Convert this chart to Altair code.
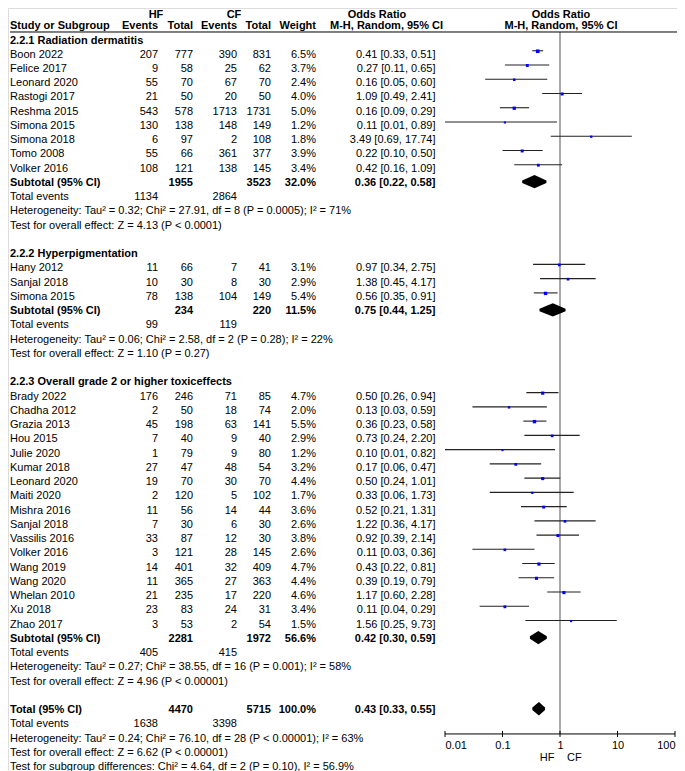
import altair as alt
import pandas as pd

FONT = "Liberation Sans"
FS = 11

# ---------------- data ----------------
g1_title = "2.2.1 Radiation dermatitis"
g1_study = ["Boon 2022", "Felice 2017", "Leonard 2020", "Rastogi 2017", "Reshma 2015",
            "Simona 2015", "Simona 2018", "Tomo 2008", "Volker 2016"]
g1_hf_ev = [207, 9, 55, 21, 543, 130, 6, 55, 108]
g1_hf_tot = [777, 58, 70, 50, 578, 138, 97, 66, 121]
g1_cf_ev = [390, 25, 67, 20, 1713, 148, 2, 361, 138]
g1_cf_tot = [831, 62, 70, 50, 1731, 149, 108, 377, 145]
g1_weight = [6.5, 3.7, 2.4, 4.0, 5.0, 1.2, 1.8, 3.9, 3.4]
g1_or = [0.41, 0.27, 0.16, 1.09, 0.16, 0.11, 3.49, 0.22, 0.42]
g1_lo = [0.33, 0.11, 0.05, 0.49, 0.09, 0.01, 0.69, 0.10, 0.16]
g1_hi = [0.51, 0.65, 0.60, 2.41, 0.29, 0.89, 17.74, 0.50, 1.09]
g1_sub = [1955, 3523, 32.0, 0.36, 0.22, 0.58]
g1_events = [1134, 2864]
g1_het = "Heterogeneity: Tau² = 0.32; Chi² = 27.91, df = 8 (P = 0.0005); I² = 71%"
g1_test = "Test for overall effect: Z = 4.13 (P < 0.0001)"

g2_title = "2.2.2 Hyperpigmentation"
g2_study = ["Hany 2012", "Sanjal 2018", "Simona 2015"]
g2_hf_ev = [11, 10, 78]
g2_hf_tot = [66, 30, 138]
g2_cf_ev = [7, 8, 104]
g2_cf_tot = [41, 30, 149]
g2_weight = [3.1, 2.9, 5.4]
g2_or = [0.97, 1.38, 0.56]
g2_lo = [0.34, 0.45, 0.35]
g2_hi = [2.75, 4.17, 0.91]
g2_sub = [234, 220, 11.5, 0.75, 0.44, 1.25]
g2_events = [99, 119]
g2_het = "Heterogeneity: Tau² = 0.06; Chi² = 2.58, df = 2 (P = 0.28); I² = 22%"
g2_test = "Test for overall effect: Z = 1.10 (P = 0.27)"

g3_title = "2.2.3 Overall grade 2 or higher toxiceffects"
g3_study = ["Brady 2022", "Chadha 2012", "Grazia 2013", "Hou 2015", "Julie 2020", "Kumar 2018",
            "Leonard 2020", "Maiti 2020", "Mishra 2016", "Sanjal 2018", "Vassilis 2016",
            "Volker 2016", "Wang 2019", "Wang 2020", "Whelan 2010", "Xu 2018", "Zhao 2017"]
g3_hf_ev = [176, 2, 45, 7, 1, 27, 19, 2, 11, 7, 33, 3, 14, 11, 21, 23, 3]
g3_hf_tot = [246, 50, 198, 40, 79, 47, 70, 120, 56, 30, 87, 121, 401, 365, 235, 83, 53]
g3_cf_ev = [71, 18, 63, 9, 9, 48, 30, 5, 14, 6, 12, 28, 32, 27, 17, 24, 2]
g3_cf_tot = [85, 74, 141, 40, 80, 54, 70, 102, 44, 30, 30, 145, 409, 363, 220, 31, 54]
g3_weight = [4.7, 2.0, 5.5, 2.9, 1.2, 3.2, 4.4, 1.7, 3.6, 2.6, 3.8, 2.6, 4.7, 4.4, 4.6, 3.4, 1.5]
g3_or = [0.50, 0.13, 0.36, 0.73, 0.10, 0.17, 0.50, 0.33, 0.52, 1.22, 0.92, 0.11, 0.43, 0.39, 1.17, 0.11, 1.56]
g3_lo = [0.26, 0.03, 0.23, 0.24, 0.01, 0.06, 0.24, 0.06, 0.21, 0.36, 0.39, 0.03, 0.22, 0.19, 0.60, 0.04, 0.25]
g3_hi = [0.94, 0.59, 0.58, 2.20, 0.82, 0.47, 1.01, 1.73, 1.31, 4.17, 2.14, 0.36, 0.81, 0.79, 2.28, 0.29, 9.73]
g3_sub = [2281, 1972, 56.6, 0.42, 0.30, 0.59]
g3_events = [405, 415]
g3_het = "Heterogeneity: Tau² = 0.27; Chi² = 38.55, df = 16 (P = 0.001); I² = 58%"
g3_test = "Test for overall effect: Z = 4.96 (P < 0.00001)"

tot_values = [4470, 5715, 100.0, 0.43, 0.33, 0.55]
tot_events = [1638, 3398]
tot_het = "Heterogeneity: Tau² = 0.24; Chi² = 76.10, df = 28 (P < 0.00001); I² = 63%"
tot_test = "Test for overall effect: Z = 6.62 (P < 0.00001)"
tot_sub = "Test for subgroup differences: Chi² = 4.64, df = 2 (P = 0.10), I² = 56.9%"

axis_ticks = [0.01, 0.1, 1, 10, 100]

# ---------------- layout constants (style) ----------------
W, H = 669, 763
ROW0_PX, ROW_PX = 32.5, 14.245
AXIS_ROW = 48.68
HDR1_ROW, HDR2_ROW, UNDERLINE_ROW = -1.825, -0.983, -0.597
FAV_ROW = 50.37
DIAMOND_HALF = 0.38
TICK_HALF = 0.21

# ---------------- build tables ----------------
text_recs = []
study_recs = []
summary_recs = []


def T(row, col, text, bold=False):
    text_recs.append({"row": row, "col": col, "text": str(text), "bold": bold})


def ci_text(o, l, h):
    return f"{o:.2f} [{l:.2f}, {h:.2f}]"


def add_group(r, title, study, hfe, hft, cfe, cft, wt, ors, los, his, sub, events, het, test):
    T(r, "study", title, True)
    r += 1
    for i in range(len(study)):
        T(r, "study", study[i])
        T(r, "hf_ev", hfe[i])
        T(r, "hf_tot", hft[i])
        T(r, "cf_ev", cfe[i])
        T(r, "cf_tot", cft[i])
        T(r, "weight", f"{wt[i]:.1f}%")
        T(r, "or", ci_text(ors[i], los[i], his[i]))
        study_recs.append({"row": r, "est": ors[i], "lo": los[i], "hi": his[i], "w": wt[i]})
        r += 1
    T(r, "study", "Subtotal (95% CI)", True)
    T(r, "hf_tot", sub[0], True)
    T(r, "cf_tot", sub[1], True)
    T(r, "weight", f"{sub[2]:.1f}%", True)
    T(r, "or", ci_text(sub[3], sub[4], sub[5]), True)
    summary_recs.append({"row": r, "est": sub[3], "lo": sub[4], "hi": sub[5]})
    r += 1
    T(r, "study", "Total events")
    T(r, "hf_ev", events[0])
    T(r, "cf_ev", events[1])
    r += 1
    T(r, "study", het)
    r += 1
    T(r, "study", test)
    r += 2
    return r


# headers
T(HDR1_ROW, "hdr_hf", "HF", True)
T(HDR1_ROW, "hdr_cf", "CF", True)
T(HDR1_ROW, "hdr_or", "Odds Ratio", True)
T(HDR1_ROW, "hdr_plot", "Odds Ratio", True)
T(HDR2_ROW, "study", "Study or Subgroup", True)
T(HDR2_ROW, "hf_ev", "Events", True)
T(HDR2_ROW, "hf_tot", "Total", True)
T(HDR2_ROW, "cf_ev", "Events", True)
T(HDR2_ROW, "cf_tot", "Total", True)
T(HDR2_ROW, "weight", "Weight", True)
T(HDR2_ROW, "hdr_mh", "M-H, Random, 95% CI", True)
T(HDR2_ROW, "hdr_plot", "M-H, Random, 95% CI", True)

r = 0
r = add_group(r, g1_title, g1_study, g1_hf_ev, g1_hf_tot, g1_cf_ev, g1_cf_tot, g1_weight,
              g1_or, g1_lo, g1_hi, g1_sub, g1_events, g1_het, g1_test)
r = add_group(r, g2_title, g2_study, g2_hf_ev, g2_hf_tot, g2_cf_ev, g2_cf_tot, g2_weight,
              g2_or, g2_lo, g2_hi, g2_sub, g2_events, g2_het, g2_test)
r = add_group(r, g3_title, g3_study, g3_hf_ev, g3_hf_tot, g3_cf_ev, g3_cf_tot, g3_weight,
              g3_or, g3_lo, g3_hi, g3_sub, g3_events, g3_het, g3_test)

# overall
T(r, "study", "Total (95% CI)", True)
T(r, "hf_tot", tot_values[0], True)
T(r, "cf_tot", tot_values[1], True)
T(r, "weight", f"{tot_values[2]:.1f}%", True)
T(r, "or", ci_text(tot_values[3], tot_values[4], tot_values[5]), True)
summary_recs.append({"row": r, "est": tot_values[3], "lo": tot_values[4], "hi": tot_values[5]})
r += 1
T(r, "study", "Total events")
T(r, "hf_ev", tot_events[0])
T(r, "cf_ev", tot_events[1])
r += 1
T(r, "study", tot_het)
r += 1
T(r, "study", tot_test)
r += 1
T(r, "study", tot_sub)
LAST_ROW = r

text_df = pd.DataFrame(text_recs)
study_df = pd.DataFrame(study_recs)

diamond_recs = []
for i, s in enumerate(summary_recs):
    diamond_recs.append({"id": i, "x": s["lo"], "ya": s["row"], "yb": s["row"]})
    diamond_recs.append({"id": i, "x": s["est"], "ya": s["row"] - DIAMOND_HALF, "yb": s["row"] + DIAMOND_HALF})
    diamond_recs.append({"id": i, "x": s["hi"], "ya": s["row"], "yb": s["row"]})
diamond_df = pd.DataFrame(diamond_recs)

# ---------------- scales ----------------
yscale = alt.Scale(domain=[0, LAST_ROW], range=[ROW0_PX, ROW0_PX + LAST_ROW * ROW_PX],
                   zero=False, nice=False)
xscale = alt.Scale(type="log", domain=[0.01, 100], range=[437, 667])
axis_px = ROW0_PX + AXIS_ROW * ROW_PX
xaxis = alt.Axis(orient="bottom", offset=axis_px - H, values=axis_ticks, format="~g",
                 labelFlush=True, domain=False, ticks=False, tickSize=0, grid=False,
                 labelPadding=5.5, labelFont=FONT, labelFontSize=FS, labelColor="black",
                 title=None)


def X(field):
    return alt.X(f"{field}:Q", scale=xscale, axis=xaxis)


def Y(field):
    return alt.Y(f"{field}:Q", scale=yscale, axis=None)


layers = []

# null line at OR = 1
null_df = pd.DataFrame({"x": [1], "ya": [UNDERLINE_ROW], "yb": [AXIS_ROW]})
layers.append(alt.Chart(null_df).mark_rule(color="#7a7a7a", strokeWidth=1.3).encode(
    x=X("x"), y=Y("ya"), y2="yb"))

# header underline
ul_df = pd.DataFrame({"row": [UNDERLINE_ROW]})
layers.append(alt.Chart(ul_df).mark_rule(color="black", strokeWidth=1).encode(
    x=alt.value(2), x2=alt.value(W), y=Y("row")))

# CI lines
layers.append(alt.Chart(study_df).mark_rule(color="#222222", strokeWidth=1.1, yOffset=-4).encode(
    x=X("lo"), x2="hi", y=Y("row")))

# study squares
layers.append(alt.Chart(study_df).mark_square(color="#0000ff", opacity=1, filled=True, yOffset=-3.5).encode(
    x=X("est"), y=Y("row"),
    size=alt.Size("w:Q", scale=alt.Scale(domain=[1, 7], range=[4, 14]), legend=None)))

# diamonds
layers.append(alt.Chart(diamond_df).mark_area(color="black", opacity=1, yOffset=-2.5).encode(
    x=X("x"), y=Y("ya"), y2="yb", detail="id:N"))

# x axis line and ticks
axl_df = pd.DataFrame({"x0": [axis_ticks[0]], "x1": [axis_ticks[-1]], "row": [AXIS_ROW]})
layers.append(alt.Chart(axl_df).mark_rule(color="black", strokeWidth=1).encode(
    x=X("x0"), x2="x1", y=Y("row")))
tick_df = pd.DataFrame({"x": axis_ticks,
                        "ya": [AXIS_ROW - TICK_HALF] * len(axis_ticks),
                        "yb": [AXIS_ROW + TICK_HALF] * len(axis_ticks)})
layers.append(alt.Chart(tick_df).mark_rule(color="black", strokeWidth=1).encode(
    x=X("x"), y=Y("ya"), y2="yb"))

# favours labels
fav_df = pd.DataFrame({"x": [1, 1], "row": [FAV_ROW, FAV_ROW], "text": ["HF", "CF"]})
layers.append(alt.Chart(fav_df.iloc[[0]]).mark_text(
    align="right", baseline="middle", dx=-5.5, font=FONT, fontSize=FS, color="black").encode(
    x=X("x"), y=Y("row"), text="text:N"))
layers.append(alt.Chart(fav_df.iloc[[1]]).mark_text(
    align="left", baseline="middle", dx=7, font=FONT, fontSize=FS, color="black").encode(
    x=X("x"), y=Y("row"), text="text:N"))

# table text
COLS = {
    "study": (2, "left"),
    "hf_ev": (150, "right"),
    "hf_tot": (185, "right"),
    "cf_ev": (229, "right"),
    "cf_tot": (263, "right"),
    "weight": (308, "right"),
    "or": (427.5, "right"),
    "hdr_hf": (148, "center"),
    "hdr_cf": (226, "center"),
    "hdr_or": (369, "center"),
    "hdr_mh": (322, "left"),
    "hdr_plot": (553, "center"),
}
for key, (xp, al) in COLS.items():
    for b in (True, False):
        sub = text_df[(text_df["col"] == key) & (text_df["bold"] == b)]
        if len(sub) == 0:
            continue
        layers.append(alt.Chart(sub).mark_text(
            align=al, baseline="middle", font=FONT, fontSize=FS,
            fontWeight="bold" if b else "normal", color="black").encode(
            x=alt.value(xp), y=Y("row"), text="text:N"))

chart = alt.layer(*layers).properties(
    width=W, height=H, padding=0,
    autosize=alt.AutoSizeParams(type="none"),
).configure_view(stroke=None).configure(font=FONT)

chart.save("out.html", embed_options={"renderer": "svg", "actions": False})
